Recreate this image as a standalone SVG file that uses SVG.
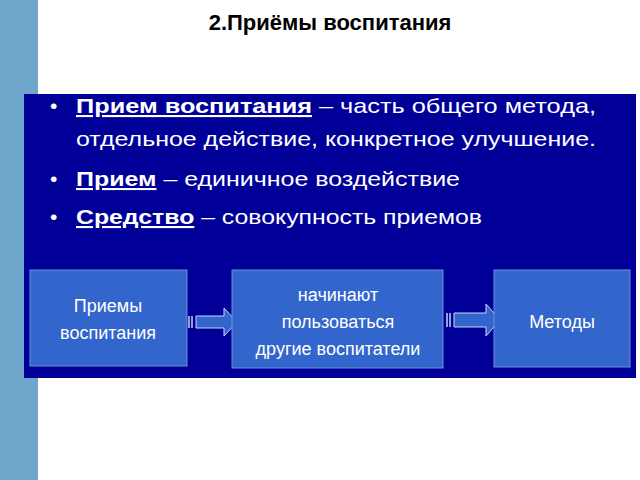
<svg xmlns="http://www.w3.org/2000/svg" width="640" height="480" viewBox="0 0 640 480">
<style>
text{font-family:"Liberation Sans",Arial,sans-serif;fill:#fff}
.b{font-size:21px}
.n{fill:#3366cc;stroke:#6f8fd8;stroke-width:1}
.t{font-size:18px;text-anchor:middle}
.ar{fill:#3366cc;stroke:#c8d4f0;stroke-width:1}
</style>
<rect width="640" height="480" fill="#fff"/>
<rect x="0" y="0" width="38" height="480" fill="#6fa6cc"/>
<text x="330" y="30" text-anchor="middle" style="font-size:22px;font-weight:bold;fill:#000">2.Приёмы воспитания</text>
<rect x="24" y="94" width="612" height="284" fill="#000099"/>
<g class="b">
<text x="50" y="113">•</text>
<text x="76" y="113" textLength="520" lengthAdjust="spacingAndGlyphs"><tspan font-weight="bold" text-decoration="underline">Прием воспитания</tspan> – часть общего метода,</text>
<text x="76" y="146" textLength="520" lengthAdjust="spacingAndGlyphs">отдельное действие, конкретное улучшение.</text>
<text x="50" y="186">•</text>
<text x="76" y="186" textLength="384" lengthAdjust="spacingAndGlyphs"><tspan font-weight="bold" text-decoration="underline">Прием</tspan> – единичное воздействие</text>
<text x="50" y="224">•</text>
<text x="76" y="224" textLength="406" lengthAdjust="spacingAndGlyphs"><tspan font-weight="bold" text-decoration="underline">Средство</tspan> – совокупность приемов</text>
</g>
<g id="connectors">
<path class="ar" d="M196,316 H224 V308 L237,322 L224,336 V328 H196 Z"/>
<path d="M189,316 V328 M192,316 V328" stroke="#c8d4f0" stroke-width="1.5"/>
<path class="ar" d="M454,313 H486 V304 L500,320 L486,336 V327 H454 Z"/>
<path d="M447,313 V327 M450,313 V327" stroke="#c8d4f0" stroke-width="1.5"/>
</g>
<g id="n1"><rect class="n" x="30" y="270" width="157" height="96"/>
<text class="t" x="108" y="312">Приемы</text><text class="t" x="108" y="339">воспитания</text></g>
<g id="n2"><rect class="n" x="232" y="270" width="211" height="98"/>
<text class="t" x="338" y="301">начинают</text><text class="t" x="338" y="328">пользоваться</text><text class="t" x="338" y="355">другие воспитатели</text></g>
<g id="n3"><rect class="n" x="494" y="270" width="136" height="97"/>
<text class="t" x="562" y="328">Методы</text></g>
</svg>
